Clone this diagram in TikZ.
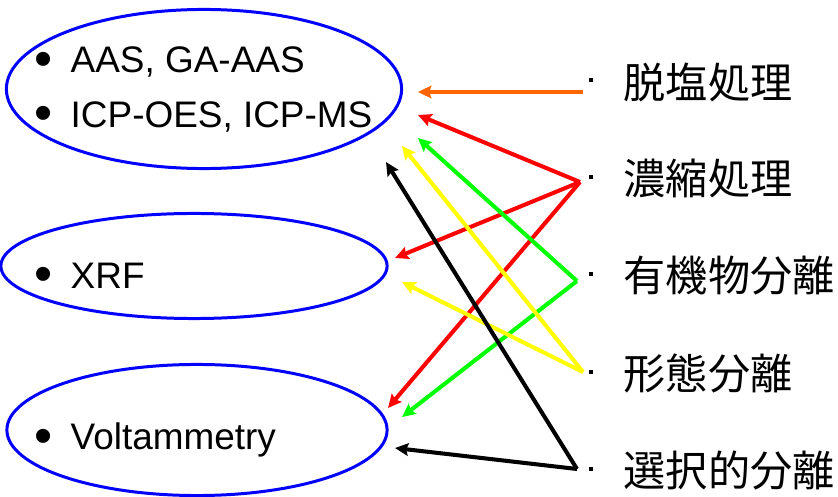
\documentclass[tikz,border=0pt]{standalone}
\usepackage{fontspec}
\setmainfont{Liberation Sans}
\newfontfamily\jpfont{Noto Sans CJK JP}
\usepackage{graphicx}
\usepackage{tikz}
\usetikzlibrary{shapes.geometric,arrows.meta}
\definecolor{ringblue}{RGB}{0,0,255}
\definecolor{linkorange}{RGB}{255,102,0}
\definecolor{linkred}{RGB}{255,0,0}
\definecolor{linkgreen}{RGB}{0,255,0}
\definecolor{linkyellow}{RGB}{255,255,0}
\newcommand{\methoditem}[1]{\makebox[0.36cm][l]{\raisebox{-1pt}{\scalebox{1.4}{\textbullet}}}#1}
\newcommand{\stepitem}[1]{\makebox[0.35cm][l]{\raisebox{4.6pt}{\rule{1.15pt}{1.15pt}}}{\jpfont #1}}
\tikzset{
    method/.style={ellipse, draw=ringblue, line width=0.85pt, inner sep=0pt},
    methodtext/.style={anchor=base west, inner sep=0pt, font=\fontsize{10.5}{12}\selectfont},
    steptext/.style={anchor=base west, inner sep=0pt, font=\fontsize{12}{14}\selectfont},
    link/.style={line width=1.15pt, -{Stealth[length=3.8pt,width=3.6pt,inset=0.6pt]}}
}

\begin{document}
\begin{tikzpicture}[x=0.01cm, y=-0.01cm]
            \useasboundingbox (0,0) rectangle (838,497);

            \node[method, minimum width=3.95cm, minimum height=1.59cm] (icp) at (204,89) {};
            \node[method, minimum width=3.86cm, minimum height=1.05cm] (xrf) at (194,266) {};
            \node[method, minimum width=3.80cm, minimum height=1.31cm] (volt) at (197,430) {};

            \node[methodtext] (aaslbl) at (34,73) {\methoditem{AAS, GA-AAS}};
            \node[methodtext] (icplbl) at (34,127) {\methoditem{ICP-OES, ICP-MS}};
            \node[methodtext] (xrflbl) at (34,288) {\methoditem{XRF}};
            \node[methodtext] (voltlbl) at (34,450) {\methoditem{Voltammetry}};

            \node[steptext] (desaltlbl) at (588,98) {\stepitem{脱塩処理}};
            \node[steptext] (concenlbl) at (588,195) {\stepitem{濃縮処理}};
            \node[steptext] (organiclbl) at (588,292) {\stepitem{有機物分離}};
            \node[steptext] (specieslbl) at (588,390) {\stepitem{形態分離}};
            \node[steptext] (selectlbl) at (588,487) {\stepitem{選択的分離}};

            \coordinate (desalt) at (583,92);
            \coordinate (concen) at (580,182);
            \coordinate (organic) at (577,281);
            \coordinate (species) at (583,372);
            \coordinate (select) at (577,469);

            \coordinate (icp-o) at (418,92);
            \coordinate (icp-r) at (418,115);
            \coordinate (icp-g) at (418,138);
            \coordinate (icp-y) at (402,146);
            \coordinate (icp-k) at (386,162);
            \coordinate (xrf-r) at (395,258);
            \coordinate (xrf-y) at (402,282);
            \coordinate (volt-r) at (388,408);
            \coordinate (volt-g) at (402,417);
            \coordinate (volt-k) at (395,448);

            \draw[link, linkorange] (desalt) -- (icp-o);
            \draw[link, linkred] (concen) -- (icp-r);
            \draw[link, linkred] (concen) -- (xrf-r);
            \draw[link, linkred] (concen) -- (volt-r);
            \draw[link, linkgreen] (organic) -- (icp-g);
            \draw[link, linkgreen] (organic) -- (volt-g);
            \draw[link, linkyellow] (species) -- (icp-y);
            \draw[link, linkyellow] (species) -- (xrf-y);
            \draw[link, black] (select) -- (icp-k);
            \draw[link, black] (select) -- (volt-k);
        \end{tikzpicture}
\end{document}
